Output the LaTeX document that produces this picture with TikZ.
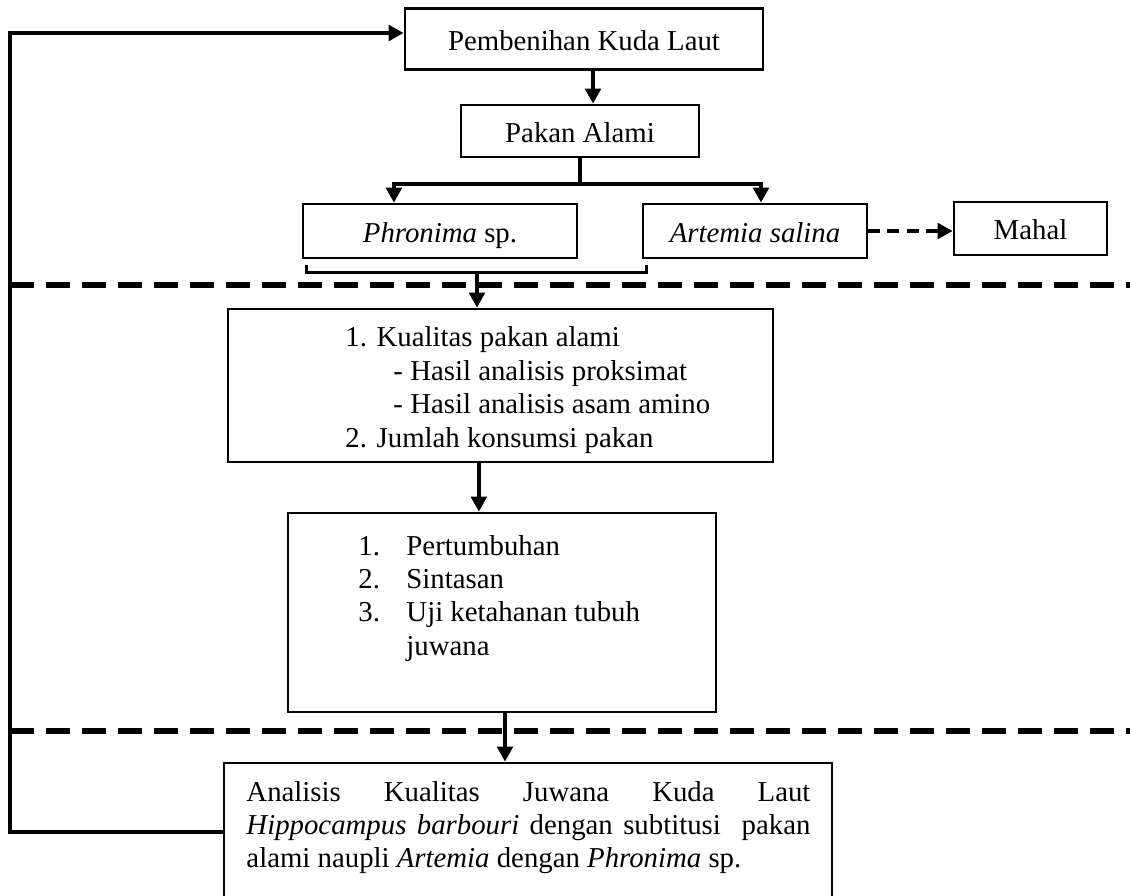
\documentclass[tikz,border=0pt]{standalone}
\usepackage{fontspec}
\setmainfont{Liberation Serif}
\usetikzlibrary{arrows.meta}

\begin{document}
\begin{tikzpicture}[x=0.41667pt,y=-0.41667pt,
    >={Triangle[length=6.3pt,width=6.5pt]},
    font=\fontsize{12pt}{13.9pt}\selectfont,
    kotak/.style={draw,line width=1.1pt,inner sep=0pt,text height=10.2pt,text depth=1pt},
    garis/.style={line width=1.7pt},
    pemisah/.style={line width=2.1pt,dash pattern=on 10pt off 5pt}]
  \useasboundingbox (0,0) rectangle (1130,896);
  \clip (0,0) rectangle (1130,896);
  % kotak-kotak
  \node[kotak,minimum width=149.2pt,minimum height=25.4pt] (benih) at (584,39) {Pembenihan Kuda Laut};
  \node[kotak,minimum width=99.2pt,minimum height=21.7pt] (pakan) at (580,131) {Pakan Alami};
  \node[kotak,minimum width=114.2pt,minimum height=22.5pt] (phronima) at (440,231) {\textit{Phronima} sp.};
  \node[kotak,minimum width=93.3pt,minimum height=22.5pt] (artemia) at (755,231) {\textit{Artemia salina}};
  \node[kotak,minimum width=63.75pt,minimum height=22pt] (mahal) at (1030.5,228.5) {Mahal};
  \node[kotak,minimum width=227.1pt,minimum height=63.75pt] (kualitas) at (500.5,385.5) {};
  \node[kotak,minimum width=178.3pt,minimum height=82.9pt] (hasil) at (502,612.5) {};
  \node[kotak,minimum width=253.3pt,minimum height=57.5pt] (analisis) at (528,832) {};
  % isi kotak
  \node[anchor=base west,inner sep=0pt] (tkualitas) at (345,347) {\begin{tabular}[t]{@{}l@{}}
      1. Kualitas pakan alami\\
      \hspace*{20pt}- Hasil analisis proksimat\\
      \hspace*{20pt}- Hasil analisis asam amino\\
      2. Jumlah konsumsi pakan\end{tabular}};
  \node[anchor=base west,inner sep=0pt] (thasil) at (358,555) {\begin{tabular}[t]{@{}p{20pt}@{}l@{}}
      1. & Pertumbuhan\\
      2. & Sintasan\\
      3. & Uji ketahanan tubuh\\
         & juwana\end{tabular}};
  \node[anchor=base west,inner sep=0pt] (tanalisis) at (246,801) {\begin{tabular}[t]{@{}l@{}}
      \makebox[235pt][s]{Analisis Kualitas Juwana Kuda Laut}\\
      \makebox[235pt][s]{\textit{Hippocampus barbouri} dengan subtitusi\ \ pakan}\\
      alami naupli \textit{Artemia} dengan \textit{Phronima} sp.\end{tabular}};
  % garis pemisah
  \draw[pemisah] (10,285) -- (1135,285);
  \draw[pemisah] (10,731) -- (1135,731);
  % panah
  \coordinate (turun) at ([xshift=3.75pt]benih.south);
  \draw[line width=2pt,->] (turun) -- (turun |- pakan.north);
  \coordinate (cabang) at (580,184);
  \draw[garis] (pakan.south) -- (cabang);
  \draw[garis,->] (cabang) -| ([xshift=-19.2pt]phronima.north);
  \draw[garis,->] (cabang) -| ([xshift=2.5pt]artemia.north);
  \draw[line width=1.6pt,dash pattern=on 5pt off 3pt,->] (artemia.east) -- (artemia.east -| mahal.west);
  \draw[line width=1.4pt] ([xshift=2.1pt,yshift=-2.5pt]phronima.south west) -- ++(0,7)
    -| ([xshift=2.1pt,yshift=-2.5pt]artemia.south west);
  \coordinate (kumpul) at (477,271);
  \draw[garis,->] (kumpul) -- (kumpul |- kualitas.north);
  \coordinate (k1) at ([xshift=-9pt]kualitas.south);
  \draw[garis,->] (k1) -- (k1 |- hasil.north);
  \coordinate (h1) at ([xshift=1.25pt]hasil.south);
  \draw[garis,->] (h1) -- (h1 |- analisis.north);
  \coordinate (balik) at (10,832);
  \draw[garis,->] (analisis.west) -- (balik) |- ([yshift=2.5pt]benih.west);
\end{tikzpicture}
\end{document}
